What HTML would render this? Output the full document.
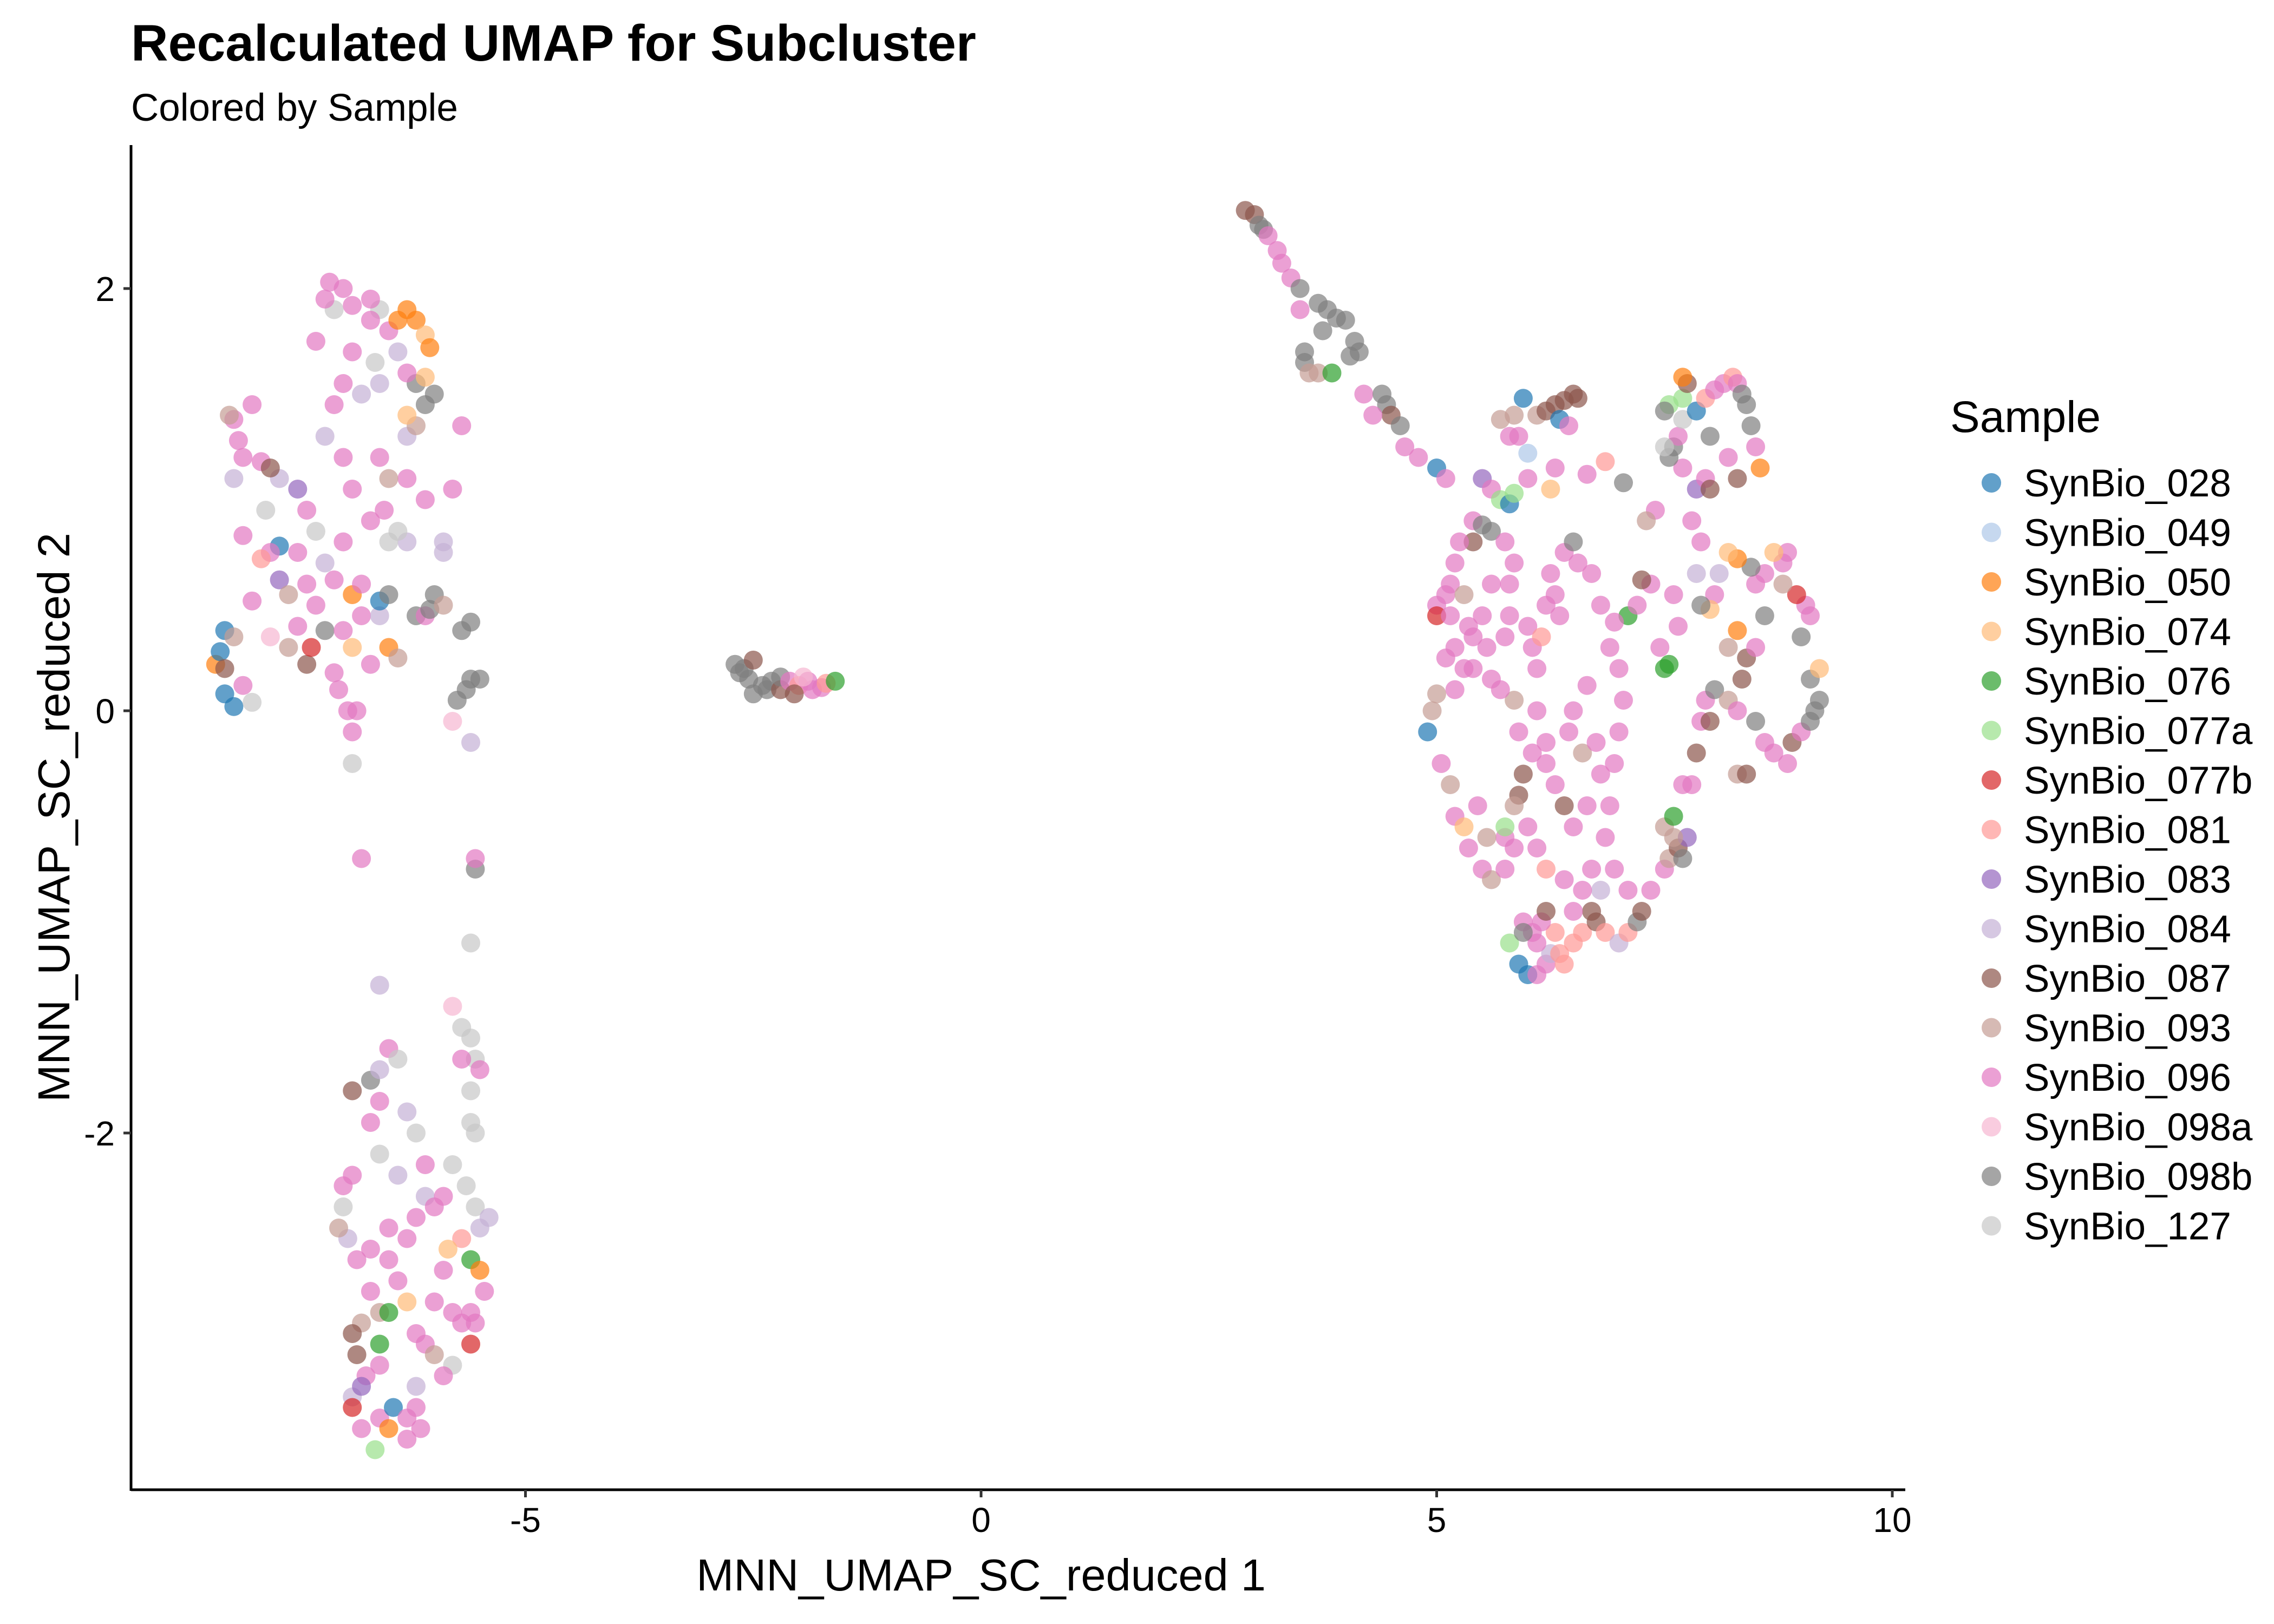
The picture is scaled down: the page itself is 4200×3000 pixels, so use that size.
<!DOCTYPE html>
<html><head><meta charset="utf-8"><title>Recalculated UMAP for Subcluster</title>
<style>html,body{margin:0;padding:0;background:#fff}svg{display:block;font-family:"Liberation Sans",Arial,sans-serif}</style>
</head><body>
<svg id="chart" width="4200" height="3000" viewBox="0 0 4200 3000" xmlns="http://www.w3.org/2000/svg">
<rect width="4200" height="3000" fill="#fff"/>
<text x="242" y="112" font-size="95" font-weight="bold" fill="#000">Recalculated UMAP for Subcluster</text>
<text x="242" y="223" font-size="71" fill="#000">Colored by Sample</text>
<g id="points"></g>
<g id="axes"></g>
<g id="legend"></g>
</svg>
<script>
const samples=["SynBio_028","SynBio_049","SynBio_050","SynBio_074","SynBio_076","SynBio_077a","SynBio_077b","SynBio_081","SynBio_083","SynBio_084","SynBio_087","SynBio_093","SynBio_096","SynBio_098a","SynBio_098b","SynBio_127"];
const colors=["#1f77b4","#aec7e8","#ff7f0e","#ffbb78","#2ca02c","#98df8a","#d62728","#ff9896","#9467bd","#c5b0d5","#8c564b","#c49c94","#e377c2","#f7b6d2","#7f7f7f","#c7c7c7"];
const xTicks=[-5,0,5,10];
const yTicks=[-2,0,2];
const clusterUpperLeft=[[-8.4,0.22,2],[-8.3,0.38,0],[-8.35,0.28,0],[-8.3,0.08,0],[-8.2,0.02,0],[-8.3,0.2,10],[-8.1,0.12,12],[-8.0,0.04,15],[-8.2,0.35,11],[-8.0,0.52,12],[-7.8,0.35,13],[-7.6,0.3,11],[-7.4,0.22,10],[-7.35,0.3,6],[-7.2,0.38,14],[-7.3,0.5,12],[-7.1,0.62,12],[-7.5,0.75,12],[-7.7,0.78,0],[-7.8,0.75,12],[-7.9,0.72,7],[-7.7,0.62,8],[-7.6,0.55,11],[-8.1,0.83,12],[-7.85,0.95,15],[-7.7,1.1,9],[-7.5,1.05,8],[-7.4,0.95,12],[-8.2,1.1,9],[-8.1,1.2,12],[-8.15,1.28,12],[-8.2,1.38,12],[-8.0,1.45,12],[-8.25,1.4,11],[-7.9,1.18,12],[-7.8,1.15,10],[-7.3,0.85,15],[-7.2,0.7,9],[-7.0,0.8,12],[-6.9,0.55,2],[-6.8,0.45,12],[-7.0,0.38,12],[-6.9,0.3,3],[-7.1,0.18,12],[-7.05,0.1,12],[-6.95,0.0,12],[-6.9,-0.1,12],[-6.85,0.0,12],[-6.7,0.22,12],[-6.5,0.3,2],[-6.6,0.45,9],[-6.6,0.52,0],[-6.5,0.55,14],[-6.4,0.25,11],[-6.2,0.45,14],[-6.1,0.45,12],[-6.0,0.55,14],[-6.05,0.48,14],[-5.9,0.5,11],[-5.7,0.38,14],[-5.6,0.42,14],[-5.6,0.15,14],[-5.5,0.15,14],[-5.65,0.1,14],[-5.75,0.05,14],[-5.8,-0.05,13],[-5.6,-0.15,9],[-6.3,0.8,9],[-6.4,0.85,15],[-6.7,0.9,12],[-6.55,0.95,12],[-6.3,1.1,12],[-6.1,1.0,12],[-5.8,1.05,12],[-5.9,0.8,9],[-6.6,1.2,12],[-6.3,1.3,9],[-6.2,1.35,11],[-6.1,1.45,14],[-6.0,1.5,14],[-6.2,1.55,14],[-6.3,1.6,12],[-6.4,1.7,9],[-6.5,1.8,12],[-6.6,1.9,15],[-6.7,1.85,12],[-6.9,1.7,12],[-7.0,1.55,12],[-7.1,1.45,12],[-7.2,1.3,9],[-7.0,1.2,12],[-6.9,1.05,12],[-7.1,1.9,15],[-7.2,1.95,12],[-7.15,2.03,12],[-7.0,2.0,12],[-6.9,1.92,12],[-6.7,1.95,12],[-6.4,1.85,2],[-6.3,1.9,2],[-6.2,1.85,2],[-6.1,1.78,3],[-6.05,1.72,2],[-6.1,1.58,3],[-6.3,1.4,3],[-6.5,1.1,11],[-7.3,1.75,12],[-6.8,1.5,9],[-6.65,1.65,15],[-6.6,1.55,9],[-6.8,0.6,12],[-7.4,0.6,12],[-7.5,0.4,12],[-6.9,-0.25,15],[-6.5,0.8,15],[-5.9,0.75,9],[-5.7,1.35,12]];
const clusterLowerLeft=[[-6.8,-0.7,12],[-6.6,-1.3,9],[-6.5,-1.6,12],[-6.7,-1.75,14],[-6.6,-1.7,9],[-6.6,-1.85,12],[-6.7,-1.95,12],[-6.4,-1.65,15],[-6.4,-2.2,9],[-6.6,-2.1,15],[-6.9,-2.2,12],[-7.0,-2.35,15],[-6.95,-2.5,9],[-7.05,-2.45,11],[-6.85,-2.6,12],[-6.7,-2.55,12],[-6.5,-2.45,12],[-6.3,-2.5,12],[-6.2,-2.4,12],[-6.1,-2.3,9],[-6.0,-2.35,12],[-5.9,-2.3,12],[-5.8,-2.15,15],[-5.65,-2.25,15],[-5.55,-2.35,15],[-5.5,-2.45,9],[-5.4,-2.4,9],[-5.7,-2.5,7],[-5.85,-2.55,3],[-5.6,-2.6,4],[-5.5,-2.65,2],[-5.45,-2.75,12],[-5.6,-2.85,12],[-5.55,-2.9,12],[-5.7,-2.9,12],[-5.8,-2.85,12],[-5.6,-3.0,6],[-5.8,-3.1,15],[-5.9,-3.15,12],[-6.1,-3.0,12],[-6.2,-2.95,12],[-6.3,-2.8,3],[-6.4,-2.7,12],[-6.5,-2.6,12],[-6.6,-2.85,11],[-6.7,-2.75,12],[-6.8,-2.9,11],[-6.85,-3.05,10],[-6.75,-3.15,12],[-6.9,-3.25,9],[-6.9,-3.3,6],[-6.8,-3.4,12],[-6.6,-3.35,12],[-6.45,-3.3,0],[-6.3,-3.35,12],[-6.2,-3.3,12],[-6.15,-3.4,12],[-6.3,-3.45,12],[-6.5,-3.4,2],[-6.65,-3.5,5],[-6.8,-3.2,8],[-6.6,-3.1,12],[-6.5,-2.85,4],[-6.2,-3.2,9],[-6.0,-3.05,11],[-6.6,-3.0,4],[-6.9,-2.95,10],[-5.7,-1.5,15],[-5.6,-1.55,15],[-5.55,-1.65,15],[-5.5,-1.7,12],[-5.6,-1.8,15],[-5.6,-1.95,15],[-5.55,-2.0,15],[-5.7,-1.65,12],[-5.8,-1.4,13],[-5.6,-1.1,15],[-5.55,-0.75,14],[-5.55,-0.7,12],[-6.9,-1.8,10],[-6.3,-1.9,9],[-6.1,-2.15,12],[-6.2,-2.0,15],[-7.0,-2.25,12],[-5.9,-2.65,12],[-6.0,-2.8,12]];
const clusterMiddle=[[-2.7,0.22,14],[-2.6,0.2,14],[-2.55,0.15,14],[-2.65,0.18,14],[-2.5,0.24,10],[-2.4,0.12,14],[-2.35,0.1,14],[-2.3,0.14,14],[-2.2,0.1,10],[-2.2,0.16,14],[-2.1,0.14,12],[-2.0,0.12,7],[-1.9,0.14,12],[-1.85,0.1,12],[-1.75,0.11,12],[-1.7,0.13,7],[-1.6,0.14,4],[-2.05,0.08,10],[-2.5,0.08,14],[-1.95,0.16,13]];
const clusterTrail=[[2.9,2.37,10],[3.0,2.35,10],[3.05,2.3,14],[3.1,2.28,14],[3.15,2.25,12],[3.25,2.18,12],[3.3,2.12,12],[3.4,2.05,12],[3.5,2.0,14],[3.5,1.9,12],[3.7,1.93,14],[3.8,1.9,14],[3.9,1.86,14],[4.0,1.85,14],[3.75,1.8,14],[4.1,1.75,14],[4.15,1.7,14],[4.05,1.68,14],[3.55,1.7,14],[3.55,1.65,14],[3.6,1.6,11],[3.7,1.6,11],[3.85,1.6,4],[4.2,1.5,12],[4.4,1.5,14],[4.45,1.45,14],[4.5,1.4,10],[4.6,1.35,14],[4.3,1.4,12],[4.65,1.25,12],[4.8,1.2,12],[5.0,1.15,0],[5.1,1.1,12]];
const clusterRing=[[5.95,1.48,0],[5.85,1.4,11],[6.1,1.4,11],[6.2,1.42,10],[6.3,1.45,10],[6.4,1.47,10],[6.5,1.5,10],[6.55,1.48,10],[6.35,1.38,0],[6.45,1.35,12],[6.0,1.22,1],[5.9,1.3,12],[5.8,1.3,12],[5.7,1.38,11],[6.0,1.1,12],[6.3,1.15,12],[6.65,1.12,12],[6.85,1.18,7],[6.25,1.05,3],[7.05,1.08,14],[5.5,1.1,8],[5.6,1.05,12],[5.7,1.0,5],[5.8,0.98,0],[5.85,1.03,5],[5.4,0.9,12],[5.5,0.88,14],[5.6,0.85,14],[5.4,0.8,10],[5.25,0.8,12],[5.2,0.7,12],[5.15,0.6,12],[5.1,0.55,12],[5.0,0.5,12],[5.0,0.45,6],[5.15,0.45,12],[5.3,0.55,11],[5.35,0.4,12],[5.2,0.3,12],[5.1,0.25,12],[5.3,0.2,12],[5.2,0.1,12],[5.0,0.08,11],[4.95,0.0,11],[4.9,-0.1,0],[5.05,-0.25,12],[5.15,-0.35,11],[5.2,-0.5,12],[5.3,-0.55,3],[5.35,-0.65,12],[5.5,-0.75,12],[5.6,-0.8,11],[5.75,-0.75,12],[5.85,-0.65,12],[5.75,-0.6,12],[5.75,-0.55,5],[5.9,-0.4,10],[5.85,-0.45,11],[5.95,-1.0,12],[6.05,-1.05,12],[5.8,-1.1,5],[5.9,-1.2,0],[6.0,-1.25,0],[6.1,-1.25,12],[6.2,-1.2,12],[6.25,-1.15,9],[6.4,-1.2,7],[6.5,-1.1,7],[6.6,-1.05,7],[6.7,-0.95,10],[6.75,-1.0,10],[6.85,-1.05,7],[7.0,-1.1,9],[7.1,-1.05,7],[7.2,-1.0,14],[7.25,-0.95,10],[7.35,-0.85,12],[7.5,-0.75,12],[7.55,-0.7,11],[7.65,-0.65,10],[7.7,-0.7,14],[7.75,-0.6,8],[7.6,-0.6,11],[7.5,-0.55,11],[7.8,-0.35,12],[7.85,-0.2,10],[7.9,-0.05,12],[7.95,0.05,12],[8.0,-0.05,10],[8.05,0.1,14],[8.2,0.05,11],[8.35,0.15,10],[8.4,0.25,10],[8.5,0.3,12],[8.6,-0.15,12],[8.7,-0.2,12],[8.85,-0.25,12],[8.9,-0.15,10],[9.0,-0.1,12],[9.1,-0.05,14],[9.15,0.0,14],[9.2,0.05,14],[9.1,0.15,14],[9.2,0.2,3],[9.0,0.35,14],[9.1,0.45,12],[9.05,0.5,12],[8.95,0.55,6],[8.8,0.6,11],[8.8,0.7,12],[8.85,0.75,12],[8.7,0.75,3],[8.6,0.65,12],[8.5,0.6,12],[8.45,0.68,14],[8.3,0.72,2],[8.2,0.75,3],[8.1,0.65,9],[8.05,0.55,12],[8.0,0.48,3],[7.9,0.5,14],[7.85,0.65,9],[7.9,0.8,12],[7.8,0.9,12],[7.85,1.05,8],[7.95,1.1,12],[8.0,1.05,10],[7.7,1.15,12],[7.55,1.2,14],[7.6,1.25,14],[7.65,1.3,12],[7.5,1.25,15],[7.7,1.38,15],[7.85,1.42,0],[7.95,1.48,7],[8.05,1.52,12],[8.15,1.55,12],[8.25,1.58,7],[8.3,1.55,12],[8.35,1.5,14],[8.4,1.45,14],[8.45,1.35,14],[8.5,1.25,12],[8.55,1.15,2],[8.3,1.1,10],[8.2,1.2,12],[8.0,1.3,14],[7.7,1.48,5],[7.55,1.45,5],[7.5,1.42,14],[7.75,1.55,10],[7.7,1.58,2],[7.4,0.95,12],[7.3,0.9,11],[7.35,0.6,12],[7.25,0.62,10],[7.45,0.3,12],[7.5,0.2,4],[7.55,0.22,4],[7.65,0.4,12],[7.1,0.45,4],[7.2,0.5,12],[7.7,-0.35,12],[7.6,-0.5,4],[8.3,-0.3,11],[8.4,-0.3,10],[8.3,0.0,12],[8.5,-0.05,14],[8.2,0.3,11],[8.3,0.38,2],[8.6,0.45,14],[7.6,0.55,12],[6.65,0.12,12],[6.5,0.0,12],[6.45,-0.1,12],[6.6,-0.2,11],[6.75,-0.15,12],[6.8,-0.3,12],[6.65,-0.45,12],[6.5,-0.55,12],[6.4,-0.45,10],[6.3,-0.35,12],[6.2,-0.25,12],[6.2,-0.15,12],[6.1,0.0,12],[6.1,0.2,12],[6.05,0.3,12],[6.0,0.4,12],[6.2,0.5,12],[6.3,0.55,12],[6.35,0.45,12],[6.25,0.65,12],[6.4,0.75,12],[6.55,0.7,12],[6.5,0.8,14],[6.7,0.65,12],[6.8,0.5,12],[6.95,0.42,12],[6.9,0.3,12],[7.0,0.2,12],[7.05,0.05,12],[7.0,-0.1,12],[6.95,-0.25,12],[6.9,-0.45,12],[6.85,-0.6,12],[6.95,-0.75,12],[6.8,-0.85,9],[6.6,-0.85,12],[6.4,-0.8,12],[6.2,-0.75,7],[6.1,-0.65,12],[6.0,-0.55,12],[5.95,-0.3,10],[6.05,-0.2,12],[5.9,-0.1,12],[5.85,0.05,11],[5.7,0.1,12],[5.6,0.15,12],[5.55,0.3,12],[5.75,0.35,12],[5.8,0.45,12],[5.8,0.6,12],[5.85,0.7,12],[5.75,0.8,12],[5.6,0.6,12],[5.5,0.45,12],[5.4,0.35,12],[5.4,0.2,12],[6.15,0.35,7],[5.55,-0.6,11],[5.45,-0.45,12],[6.3,-1.05,7],[6.35,-1.15,7],[6.15,-1.0,12],[6.1,-1.1,12],[5.95,-1.05,14],[6.2,-0.95,10],[6.5,-0.95,12],[6.7,-0.75,12],[7.1,-0.85,12]];

const NS="http://www.w3.org/2000/svg";
const X0=1812, XU=168.3, Y0=1313, YU=390;
function sx(v){return X0+v*XU;}
function sy(v){return Y0-v*YU;}
function mk(tag,attrs,parent){const e=document.createElementNS(NS,tag);for(const k in attrs)e.setAttribute(k,attrs[k]);parent.appendChild(e);return e;}

const pts=document.getElementById('points');
[clusterUpperLeft,clusterLowerLeft,clusterMiddle,clusterTrail,clusterRing].forEach(arr=>{
  arr.forEach(p=>{
    const c=mk('circle',{cx:sx(p[0]).toFixed(1),cy:sy(p[1]).toFixed(1),r:17.5,fill:colors[p[2]],'fill-opacity':0.7},pts);
    
    
  });
});

const ax=document.getElementById('axes');
const AXL=242, AXB=2752, AXT=268, AXR=3519;
let l=mk('line',{x1:AXL,y1:AXB,x2:AXR,y2:AXB,stroke:'#000','stroke-width':5},ax);


l=mk('line',{x1:AXL,y1:AXT,x2:AXL,y2:AXB+2,stroke:'#000','stroke-width':5},ax);


xTicks.forEach(t=>{
  const tk=mk('line',{x1:sx(t),y1:AXB,x2:sx(t),y2:AXB+14,stroke:'#333','stroke-width':5},ax);
  
  
  const tx=mk('text',{x:sx(t),y:AXB+78,'font-size':64,'text-anchor':'middle',fill:'#000'},ax);
  tx.textContent=t;
  
  
});
yTicks.forEach(t=>{
  const tk=mk('line',{x1:AXL-14,y1:sy(t),x2:AXL,y2:sy(t),stroke:'#333','stroke-width':5},ax);
  
  
  const tx=mk('text',{x:AXL-30,y:sy(t)+23,'font-size':64,'text-anchor':'end',fill:'#000'},ax);
  tx.textContent=t;
  
  
});
let xt=mk('text',{x:1812,y:2938,'font-size':83,'text-anchor':'middle',fill:'#000'},ax);
xt.textContent='MNN_UMAP_SC_reduced 1';


let yt=mk('text',{x:0,y:0,'font-size':83,'text-anchor':'middle',fill:'#000',transform:'translate(128,1510) rotate(-90)'},ax);
yt.textContent='MNN_UMAP_SC_reduced 2';



const lg=document.getElementById('legend');
let lt=mk('text',{x:3602,y:798,'font-size':82,fill:'#000'},lg);
lt.textContent='Sample';


samples.forEach((s,i)=>{
  const y=892+i*91.5;
  const g=mk('g',{},lg);
  
  
  mk('circle',{cx:3678,cy:y,r:18,fill:colors[i],'fill-opacity':0.7},g);
  const t=mk('text',{x:3738,y:y+25,'font-size':71,fill:'#000'},g);
  t.textContent=s;
});
</script>
</body></html>
